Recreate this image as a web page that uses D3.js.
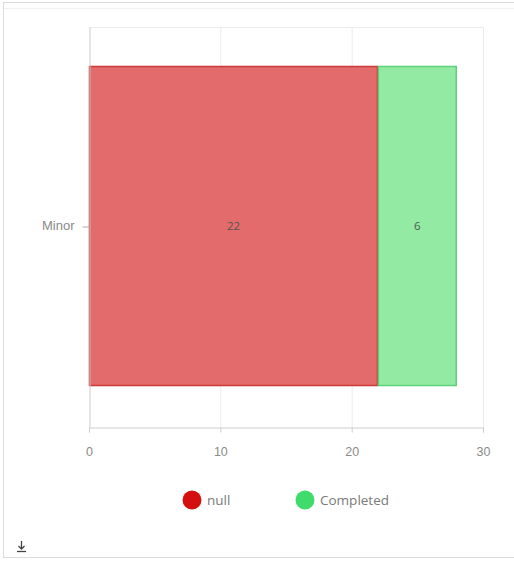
<!DOCTYPE html>
<html><head><meta charset="utf-8">
<script src="https://cdn.jsdelivr.net/npm/d3@7"></script>
<style>
html,body{margin:0;padding:0;background:#fff;}
svg{display:block;font-family:"Open Sans",Lato,sans-serif;}
</style></head>
<body><svg id="chart" width="514" height="562"></svg>
<script>
const categories = ["Minor"];
const seriesNames = ["null", "Completed"];
const nullValues = [22];
const completedValues = [6];
const xTicks = [0, 10, 20, 30];
const fills = ["#e36b6b", "#93eba3"];
const strokes = ["#cc3a3a", "#5ed27a"];
const legendColors = ["#d40f0f", "#3fdc6c"];

const svg = d3.select("#chart");
// frame
svg.append("rect").attr("x",3.5).attr("y",2.5).attr("width",520).attr("height",555)
  .attr("fill","none").attr("stroke","#dcdcdc");
svg.append("line").attr("x1",4).attr("x2",514).attr("y1",8.5).attr("y2",8.5)
  .attr("stroke","#f2f2f2");

const mLeft = 89, mRight = 483, mTop = 27, mBottom = 427;
const x = d3.scaleLinear().domain([0,30]).range([mLeft,mRight]);
const y = d3.scaleBand().domain(categories).range([mTop,mBottom]).paddingInner(0.2).paddingOuter(0.1);

// grid
svg.append("g").selectAll("line").data(xTicks.slice(1)).join("line")
  .attr("x1",d=>x(d)+0.5).attr("x2",d=>x(d)+0.5).attr("y1",mTop).attr("y2",mBottom)
  .attr("stroke","#ebebeb");
svg.append("line").attr("x1",mLeft).attr("x2",mRight).attr("y1",mTop+0.5).attr("y2",mTop+0.5).attr("stroke","#ebebeb");

const stacked = categories.map((c,i)=>({cat:c, parts:[{s:0,v:nullValues[i],k:0},{s:nullValues[i],v:completedValues[i],k:1}]}));
const g = svg.append("g");
stacked.forEach(d=>{
  d.parts.forEach(p=>{
    g.append("rect").attr("x",x(p.s)+0.5).attr("y",y(d.cat)-0.5)
      .attr("width",x(p.s+p.v)-x(p.s)-1).attr("height",y.bandwidth()-1)
      .attr("fill",fills[p.k]).attr("stroke",strokes[p.k]).attr("stroke-width",1.5);
  });
  d.parts.forEach(p=>{
    g.append("text").attr("x",(x(p.s)+x(p.s+p.v))/2).attr("y",y(d.cat)+y.bandwidth()/2-1)
      .attr("dy","0.35em").attr("text-anchor","middle").attr("font-size",11.5)
      .attr("fill","#555").text(p.v);
  });
});

// axes
const xAxis = svg.append("g").attr("transform",`translate(0,${mBottom+0.5})`)
  .call(d3.axisBottom(x).tickValues(xTicks).tickSize(5).tickPadding(15));
xAxis.select(".domain").attr("stroke","#cccccc");
xAxis.selectAll(".tick line").attr("stroke","#cccccc");
xAxis.selectAll(".tick text").attr("fill","#8a8a8a").attr("font-size",12.5);

const yAxis = svg.append("g").attr("transform",`translate(${mLeft+0.5},0)`)
  .call(d3.axisLeft(y).tickSize(7).tickSizeOuter(0).tickPadding(8));
yAxis.select(".domain").attr("stroke","#cccccc");
yAxis.selectAll(".tick line").attr("stroke","#aaaaaa");
yAxis.selectAll(".tick text").attr("fill","#8a8a8a").attr("font-size",13).attr("dy","0.2em");

// legend
const legendX = [192, 305];
seriesNames.forEach((n,i)=>{
  svg.append("circle").attr("cx",legendX[i]).attr("cy",500).attr("r",9.5).attr("fill",legendColors[i]);
  svg.append("text").attr("x",legendX[i]+15).attr("y",500).attr("dy","0.35em")
    .attr("font-size",13.5).attr("fill","#7a7a7a").text(n);
});

// download icon
const ic = svg.append("g").attr("stroke","#444").attr("stroke-width",1.3).attr("fill","none");
ic.append("line").attr("x1",21.5).attr("x2",21.5).attr("y1",541).attr("y2",549);
ic.append("path").attr("d","M18.5,546 L21.5,549 L24.5,546");
ic.append("line").attr("x1",17).attr("x2",26).attr("y1",551.5).attr("y2",551.5);
</script></body></html>
